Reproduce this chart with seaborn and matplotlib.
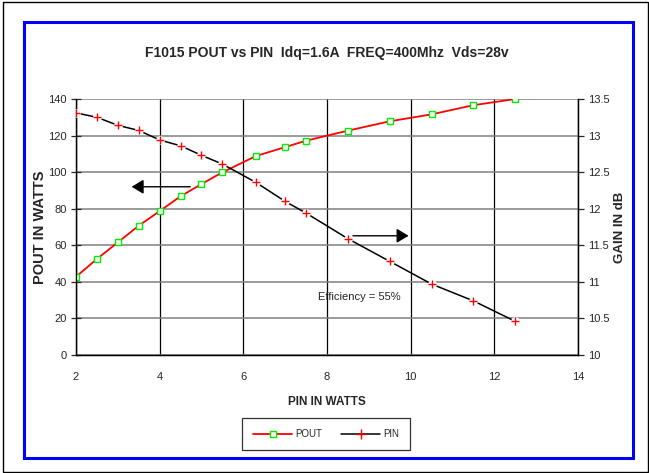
import matplotlib
matplotlib.use("Agg")
import matplotlib.pyplot as plt
import matplotlib.patches as patches
from matplotlib.lines import Line2D
import seaborn as sns

# ---------------------------
# Data
# ---------------------------
pin_watts = [2, 2.5, 3, 3.5, 4, 4.5, 5, 5.5, 6.3, 7, 7.5, 8.5, 9.5, 10.5, 11.5, 12.5]
pout_watts = [42.8, 52.5, 61.6, 70.7, 78.7, 86.8, 93.5, 99.9, 108.8, 113.7, 117.2,
              122.7, 127.8, 131.6, 136.6, 140.0]
gain_db = [13.31, 13.25, 13.14, 13.07, 12.94, 12.86, 12.73, 12.61, 12.36, 12.10, 11.94,
           11.59, 11.28, 10.97, 10.74, 10.46]

x_ticks = [2, 4, 6, 8, 10, 12, 14]
left_ticks = [0, 20, 40, 60, 80, 100, 120, 140]
right_ticks = [10, 10.5, 11, 11.5, 12, 12.5, 13, 13.5]
right_labels = ["10", "10.5", "11", "11.5", "12", "12.5", "13", "13.5"]

# ---------------------------
# Style
# ---------------------------
sns.set_style("white")
plt.rcParams["font.family"] = ["Liberation Sans", "DejaVu Sans"]

fig = plt.figure(figsize=(6.49, 4.73), dpi=100)
ax = fig.add_axes([76 / 649, 1 - 355 / 473, (578 - 76) / 649, (355 - 99) / 473])
ax2 = ax.twinx()

# ---------------------------
# POUT (left axis)
# ---------------------------
sns.lineplot(x=pin_watts, y=pout_watts, ax=ax, color="red", linewidth=1.3,
             marker="s", markersize=5, markerfacecolor="white",
             markeredgecolor="#00ee00", markeredgewidth=1, sort=False, zorder=4)

# ---------------------------
# Gain (right axis), line with small gaps at markers
# ---------------------------
sns.lineplot(x=pin_watts, y=gain_db, ax=ax2, color="black", linewidth=1.1,
             sort=False, zorder=2)
sns.scatterplot(x=pin_watts, y=gain_db, ax=ax2, color="white", s=40,
                linewidth=0, zorder=3)
sns.scatterplot(x=pin_watts, y=gain_db, ax=ax2, color="red", marker="+", s=38,
                linewidth=1, zorder=4)

# ---------------------------
# Axes
# ---------------------------
ax.set_xlim(2, 14)
ax.set_ylim(0, 140)
ax2.set_ylim(10, 13.5)
ax.set_xticks(x_ticks)
ax.set_yticks(left_ticks)
ax2.set_yticks(right_ticks)
ax2.set_yticklabels(right_labels)

ax.grid(axis="y", color="#808080", linewidth=1.1)
ax.grid(axis="x", color="black", linewidth=0.9)
ax.set_axisbelow(True)

for a in (ax, ax2):
    for s in a.spines.values():
        s.set_color("black")
        s.set_linewidth(0.9)
    a.spines["top"].set_visible(False)

ax.tick_params(axis="x", direction="out", length=4, width=0.9, labelsize=8, pad=8)
ax.tick_params(axis="y", direction="inout", length=7, width=0.9, labelsize=8, pad=3)
ax2.tick_params(axis="y", direction="out", length=4, width=0.9, labelsize=8, pad=3)

ax.set_xlabel("PIN IN WATTS", fontsize=8.5, fontweight="bold", labelpad=10)
ax.set_ylabel("POUT IN WATTS", fontsize=10.5, fontweight="bold", labelpad=1)
ax2.set_ylabel("GAIN IN dB", fontsize=9.5, fontweight="bold", labelpad=3)

# ---------------------------
# Annotations
# ---------------------------
arrow = dict(arrowstyle="-|>,head_length=0.6,head_width=0.36", color="black",
             lw=1, mutation_scale=12, shrinkA=0, shrinkB=0)
ax.annotate("", xy=(3.33, 92), xytext=(4.73, 92), arrowprops=arrow)
ax.annotate("", xy=(9.95, 65.2), xytext=(8.62, 65.2), arrowprops=arrow)
ax.text(7.78, 31.7, "Efficiency = 55%", fontsize=8, va="center", ha="left")

fig.text(0.503, 1 - 52.7 / 473, "F1015 POUT vs PIN  Idq=1.6A  FREQ=400Mhz  Vds=28v",
         ha="center", va="center", fontsize=10, fontweight="bold")

# ---------------------------
# Legend
# ---------------------------
handles = [
    Line2D([], [], color="red", lw=1.3, marker="s", markersize=5,
           markerfacecolor="white", markeredgecolor="#00ee00", label="POUT"),
    Line2D([], [], color="black", lw=1.1, marker="+", markersize=7,
           markeredgecolor="red", label="PIN"),
]
leg = fig.legend(handles=handles, loc="center", bbox_to_anchor=(326 / 649, 1 - 434 / 473),
                 ncol=2, fontsize=7, frameon=True, fancybox=False, handlelength=4,
                 columnspacing=2.0, borderpad=1.1, handletextpad=0.3)
leg.get_frame().set_edgecolor("black")
leg.get_frame().set_linewidth(0.9)

# ---------------------------
# Borders
# ---------------------------
fig.patches.append(patches.Rectangle((23.5 / 649, 1 - 457.5 / 473), (632.7 - 23.5) / 649,
                                     (457.5 - 22) / 473, fill=False, edgecolor="blue",
                                     linewidth=2.2, transform=fig.transFigure))
fig.patches.append(patches.Rectangle((3 / 649, 1 / 473), 645 / 649, 470 / 473,
                                     fill=False, edgecolor="black", linewidth=1,
                                     transform=fig.transFigure))

fig.savefig("out.png", dpi=100)
